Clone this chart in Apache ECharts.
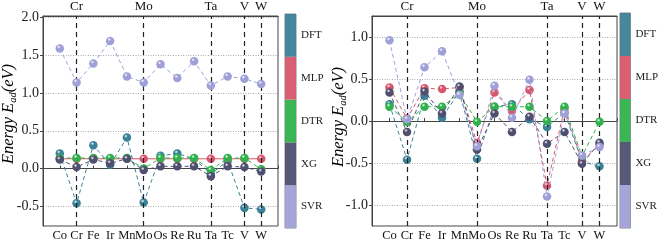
<!DOCTYPE html>
<html><head><meta charset="utf-8">
<script src="https://cdn.jsdelivr.net/npm/echarts@6/dist/echarts.min.js"></script>
<style>html,body{margin:0;padding:0;background:#fff}#c{width:661px;height:242px}</style>
</head><body><div id="c"></div>
<script>
// ---- data ----
const categories = ['Co','Cr','Fe','Ir','Mn','Mo','Os','Re','Ru','Ta','Tc','V','W'];
const topLabels = ['Cr','Mo','Ta','V','W'];
const seriesNames = ['DFT','MLP','DTR','XG','SVR'];
// left panel
const leftDFT = [0.20,-0.46,0.31,0.05,0.41,-0.45,0.17,0.20,0.13,-0.07,0.10,-0.52,-0.54];
const leftMLP = [0.13,0.13,0.13,0.13,0.13,0.13,0.13,0.13,0.13,0.13,0.13,0.13,0.13];
const leftDTR = [0.14,0.14,0.14,0.14,0.14,0.00,0.14,0.14,0.14,-0.02,0.14,0.14,-0.01];
const leftXG  = [0.12,0.02,0.12,0.07,0.13,-0.02,0.03,0.03,0.03,-0.10,0.03,0.02,-0.04];
const leftSVR = [1.59,1.14,1.39,1.69,1.22,1.14,1.38,1.20,1.42,1.10,1.22,1.19,1.12];
// right panel
const rightDFT = [0.20,-0.46,0.30,0.04,0.35,-0.45,0.17,0.20,0.02,-0.07,0.10,-0.48,-0.54];
const rightMLP = [0.40,0.03,0.39,0.38,0.40,-0.26,0.34,0.12,0.37,-0.77,0.15,-0.48,-0.28];
const rightDTR = [0.17,-0.01,0.17,0.17,0.33,-0.01,0.17,0.17,0.17,0.00,0.17,-0.42,-0.01];
const rightXG  = [0.34,-0.13,0.35,0.09,0.41,-0.34,0.09,-0.13,0.05,-0.27,-0.13,-0.51,-0.26];
const rightSVR = [0.96,0.02,0.64,0.83,0.31,-0.30,0.42,0.04,0.49,-0.90,0.09,-0.41,-0.31];
// ---- style ----
const colors = {DFT:'#3b8197', MLP:'#d8566b', DTR:'#2fb24c', XG:'#4f4f70', SVR:'#a0a0d8'};
const FONT = 'Liberation Serif';

function ball(c){
  return {type:'radial', x:0.38, y:0.32, r:0.75, colorStops:[
    {offset:0, color:'#ffffff'},{offset:0.28, color:c},{offset:1, color:c}]};
}
function mkSeries(name, vals, gi){
  return {
    type:'line', name: name, xAxisIndex: gi*2, yAxisIndex: gi,
    data: vals.map((v,i)=>[i+1, v]),
    symbol:'circle', symbolSize:8.5,
    itemStyle:{color: ball(colors[name])},
    lineStyle:{color: colors[name], width:1, type:(gi===0 && name==='MLP') ? 'solid' : [4,3]},
    z: 3 + seriesNames.indexOf(name), animation:false
  };
}
function markSeries(gi){
  return {type:'line', xAxisIndex: gi*2, yAxisIndex: gi, data: [], silent:true, animation:false,
    markLine:{symbol:'none', silent:true, label:{show:false},
      lineStyle:{color:'#222', width:1.2, type:[5,4]},
      data: topLabels.map(n=>({xAxis: categories.indexOf(n)+1}))}};
}

const plots = [
  {left:43, top:14, width:235, height:214, min:-0.76, max:2.02},
  {left:372, top:13, width:245, height:215, min:-1.25, max:1.25}
];
const bars = [
  {left:285, top:14, width:11, height:214},
  {left:620, top:13, width:12, height:215}
];
const grids = [], xAxes = [], yAxes = [], series = [];
plots.forEach((p,gi)=>{
  grids.push({left:p.left, top:p.top, width:p.width, height:p.height, show:true, borderColor:'#444', borderWidth:1, containLabel:false});
  xAxes.push({type:'value', gridIndex:gi, min:0, max:14, interval:1, position:'bottom',
    axisLine:{lineStyle:{color:'#444'}}, axisTick:{inside:true, length:3, lineStyle:{color:'#444'}},
    splitLine:{show:false},
    axisLabel:{margin:3, fontFamily:FONT, fontSize:12.5, color:'#111', formatter:v=>categories[v-1]||''}});
  xAxes.push({type:'value', gridIndex:gi, min:0, max:14, interval:1, position:'top',
    axisLine:{lineStyle:{color:'#444'}}, axisTick:{show:false}, splitLine:{show:false},
    axisLabel:{margin:3, fontFamily:FONT, fontSize:13, color:'#111', formatter:v=>{const n=categories[v-1]; return topLabels.includes(n)?n:'';}}});
  yAxes.push({type:'value', gridIndex:gi, min:p.min, max:p.max, splitNumber:5,
    axisLine:{lineStyle:{color:'#444'}}, axisTick:{length:3, lineStyle:{color:'#444'}},
    splitLine:{lineStyle:{color:'#aaa', type:[1,1.5], width:1}},
    axisLabel:{margin:4, fontFamily:FONT, fontSize:14, color:'#222', showMinLabel:false, showMaxLabel:false,
      formatter:v=>v.toFixed(1)}});
});
bars.forEach((b,k)=>{
  const gi = 2+k;
  grids.push({left:b.left, top:b.top, width:b.width, height:b.height, show:true, borderColor:'#888', borderWidth:1});
  xAxes.push({type:'value', gridIndex:gi, min:0, max:1, show:false});
  yAxes.push({type:'category', gridIndex:gi, position:'right', data: seriesNames.slice().reverse(),
    axisLine:{show:false}, axisTick:{length:3, alignWithLabel:true, lineStyle:{color:'#444'}},
    splitLine:{show:false},
    axisLabel:{margin:5, fontFamily:FONT, fontSize:11, color:'#222'}});
  series.push({type:'bar', xAxisIndex:4+k, yAxisIndex:gi, barWidth:'100%', animation:false, silent:true,
    data: seriesNames.slice().reverse().map(n=>({value:1, itemStyle:{color: colors[n], opacity:0.95}}))});
});
const leftData = {DFT:leftDFT, MLP:leftMLP, DTR:leftDTR, XG:leftXG, SVR:leftSVR};
const rightData = {DFT:rightDFT, MLP:rightMLP, DTR:rightDTR, XG:rightXG, SVR:rightSVR};
series.push(markSeries(0), markSeries(1));
seriesNames.forEach(n=>{ series.push(mkSeries(n, leftData[n], 0)); });
seriesNames.forEach(n=>{ series.push(mkSeries(n, rightData[n], 1)); });

function titleText(x, y){
  return {type:'text', x:x, y:y, rotation:Math.PI/2, z:10,
    style:{text:'{m|Energy E}{s|ad}{m|(eV)}', align:'center', verticalAlign:'middle',
      rich:{m:{fontFamily:FONT, fontStyle:'italic', fontSize:16.5, color:'#222', lineHeight:20, verticalAlign:'middle'},
            s:{fontFamily:FONT, fontStyle:'italic', fontSize:10.5, color:'#222', verticalAlign:'bottom'}}}};
}

const chart = echarts.init(document.getElementById('c'), null, {renderer:'canvas'});
chart.setOption({
  animation:false,
  grid: grids, xAxis: xAxes, yAxis: yAxes, series: series,
  graphic: [titleText(9, 114), titleText(339, 117)]
});
</script></body></html>
